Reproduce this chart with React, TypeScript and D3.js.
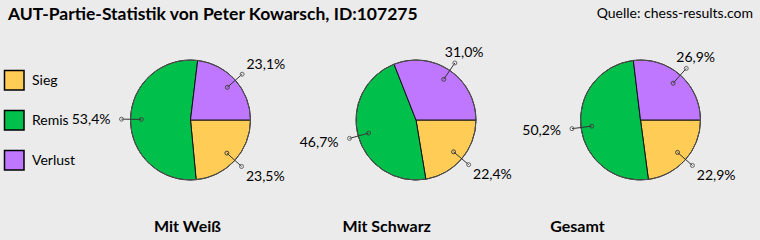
import React from "react";
import * as d3 from "d3";

const CATEGORIES = ["Sieg", "Remis", "Verlust"];
const COLORS = ["#FFCC55", "#00C04B", "#C077FF"];
const CHART_TITLES = ["Mit Weiß", "Mit Schwarz", "Gesamt"];
const WHITE_VALUES = [23.5, 53.4, 23.1];
const BLACK_VALUES = [22.4, 46.7, 31.0];
const TOTAL_VALUES = [22.9, 50.2, 26.9];
const SERIES = [WHITE_VALUES, BLACK_VALUES, TOTAL_VALUES];

const TITLE = "AUT-Partie-Statistik von Peter Kowarsch, ID:107275";
const SOURCE = "Quelle: chess-results.com";

const W = 760;
const H = 240;
const PIE_CX = [190.5, 416, 640.5];
const PIE_CY = 120;
const R = 60;
const CAPTION_X = [187.5, 386.7, 577.5];
const FONT = "Lato, 'Open Sans', sans-serif";

const fmt = (v: number) => v.toFixed(1).replace(".", ",") + "%";

function Pie({ values, cx }: { values: number[]; cx: number }) {
  const pie = d3
    .pie<number>()
    .sort(null)
    .value((d) => d)
    .startAngle(Math.PI / 2)
    .endAngle(Math.PI / 2 + Math.PI * 2);
  const arcs = pie(values);
  const arc = d3.arc<d3.PieArcDatum<number>>().innerRadius(0).outerRadius(R);
  return (
    <g transform={`translate(${cx},${PIE_CY})`}>
      {arcs.map((a, i) => (
        <path key={i} d={arc(a) || ""} fill={COLORS[i]} stroke="#111" strokeWidth={1} />
      ))}
      <circle r={R} fill="none" stroke="#555" strokeWidth={1} />
      {arcs.map((a, i) => {
        const m = (a.startAngle + a.endAngle) / 2;
        const dx = Math.sin(m);
        const dy = -Math.cos(m);
        const ix = dx * R * 0.82;
        const iy = dy * R * 0.82;
        const ox = dx * R * 1.15;
        const oy = dy * R * 1.15;
        let tx: number, ty: number, anchor: string;
        if (Math.abs(dx) >= Math.abs(dy)) {
          if (dx > 0) {
            tx = ox + 4.4;
            anchor = "start";
          } else {
            tx = ox - 11;
            anchor = "end";
          }
          ty = oy + dy * 15;
        } else {
          tx = ox - 10;
          anchor = "start";
          ty = oy + (dy < 0 ? -11 : 11);
        }
        return (
          <g key={"l" + i}>
            <line x1={ix} y1={iy} x2={ox} y2={oy} stroke="#333" strokeWidth={1} />
            <circle cx={ix} cy={iy} r={2} fill="none" stroke="#444" strokeWidth={1} />
            <circle cx={ox} cy={oy} r={2} fill="none" stroke="#666" strokeWidth={1} />
            <text x={tx} y={ty} dy="0.35em" textAnchor={anchor} fontSize={14} fill="#000">
              {fmt(values[i])}
            </text>
          </g>
        );
      })}
    </g>
  );
}

export default function App() {
  return (
    <svg
      width={W}
      height={H}
      style={{ position: "absolute", left: 0, top: 0, fontFamily: FONT }}
    >
      <rect width={W} height={H} fill="#EBEBEB" />
      <text x={8} y={20} fontSize={17.5} fontWeight="bold" fill="#000">
        {TITLE}
      </text>
      <text x={753} y={18} fontSize={14} textAnchor="end" fill="#000">
        {SOURCE}
      </text>
      {CATEGORIES.map((c, i) => (
        <g key={c}>
          <rect x={4.5} y={70.5 + i * 40} width={19.5} height={19.5} fill={COLORS[i]} stroke="#000" strokeWidth={1.5} />
          <text x={32} y={80 + i * 40} dy="0.35em" fontSize={14} fill="#000">
            {c}
          </text>
        </g>
      ))}
      {SERIES.map((vals, k) => (
        <Pie key={k} values={vals} cx={PIE_CX[k]} />
      ))}
      {CHART_TITLES.map((t, k) => (
        <text key={t} x={CAPTION_X[k]} y={232} textAnchor="middle" fontSize={16} fontWeight="bold" fill="#000">
          {t}
        </text>
      ))}
    </svg>
  );
}
